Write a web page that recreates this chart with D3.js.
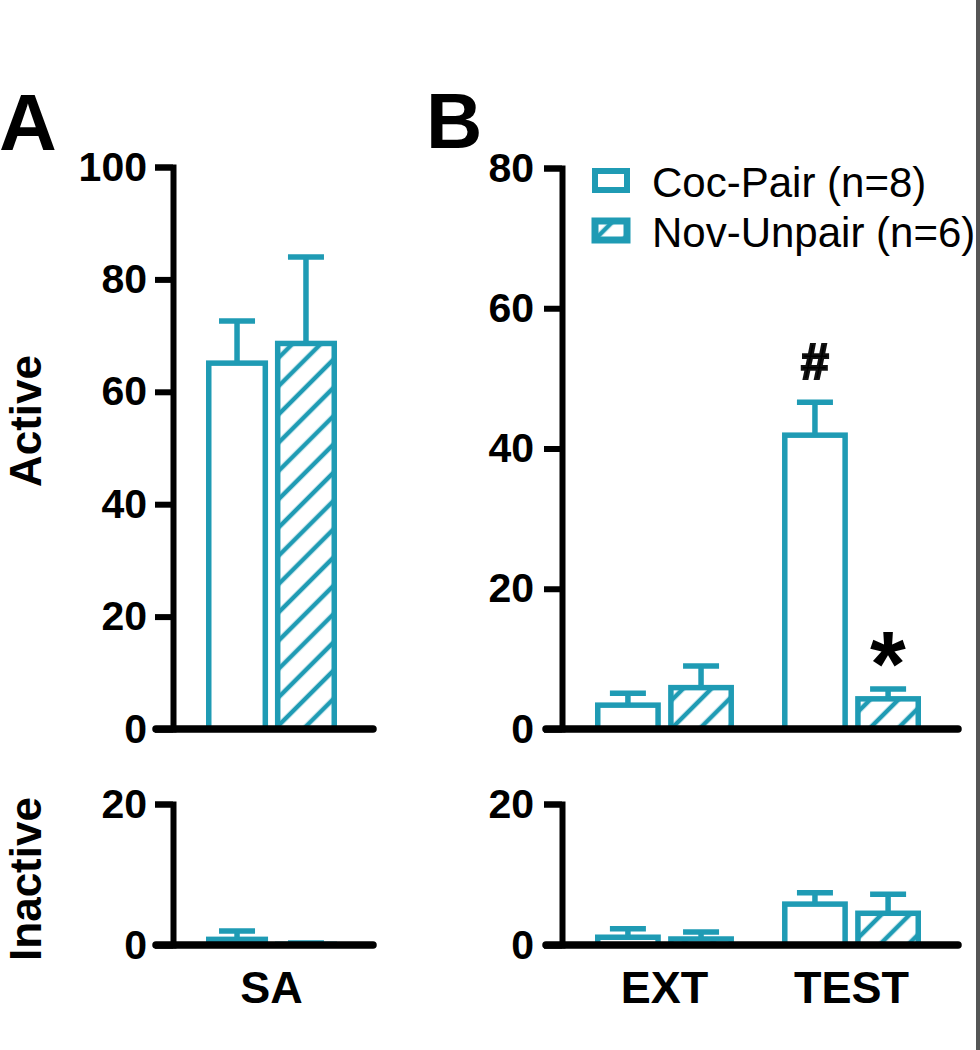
<!DOCTYPE html>
<html>
<head>
<meta charset="utf-8">
<script src="https://cdn.jsdelivr.net/npm/d3@7"></script>
<style>
  html, body { margin: 0; padding: 0; background: #fff; }
  svg { display: block; }
  text { font-family: "Liberation Sans", Arial, sans-serif; fill: #000; }
</style>
</head>
<body>
<svg id="chart" width="980" height="1050"></svg>
<script>
// ---------------- data ----------------
const seriesNames = ["Coc-Pair (n=8)", "Nov-Unpair (n=6)"];
const catsA = ["SA"];
const catsB = ["EXT", "TEST"];

// Panel A (SA)
const activeA_coc = [65.1];
const activeA_coc_sem = [7.5];
const activeA_nov = [68.6];
const activeA_nov_sem = [15.4];
const inactiveA_coc = [0.8];
const inactiveA_coc_sem = [1.2];
const inactiveA_nov = [0.1];
const inactiveA_nov_sem = [0.2];

// Panel B (EXT, TEST)
const activeB_coc = [3.4, 41.9];
const activeB_coc_sem = [1.7, 4.7];
const activeB_nov = [5.9, 4.3];
const activeB_nov_sem = [3.1, 1.4];
const inactiveB_coc = [1.1, 5.8];
const inactiveB_coc_sem = [1.2, 1.6];
const inactiveB_nov = [0.85, 4.5];
const inactiveB_nov_sem = [1.0, 2.7];

// significance marks above bars (B active)
const marksB_coc = ["", "#"];
const marksB_nov = ["", "*"];

const ticksActiveA = [0, 20, 40, 60, 80, 100];
const ticksActiveB = [0, 20, 40, 60, 80];
const ticksInactive = [0, 20];

// ---------------- drawing ----------------
const TEAL = "#1f9bb4";
const svg = d3.select("#chart");

const defs = svg.append("defs");
const pat = defs.append("pattern")
  .attr("id", "hatch")
  .attr("patternUnits", "userSpaceOnUse")
  .attr("width", 20).attr("height", 20)
  .attr("patternTransform", "rotate(45)");
pat.append("rect").attr("width", 20).attr("height", 20).attr("fill", "#fff");
pat.append("line").attr("x1", 10).attr("y1", -2).attr("x2", 10).attr("y2", 22)
  .attr("stroke", TEAL).attr("stroke-width", 4.5);

function rows(cats, coc, cocSem, nov, novSem, marksC, marksN) {
  const out = [];
  cats.forEach((c, i) => {
    out.push({cat: c, s: seriesNames[0], v: coc[i], e: cocSem[i], mark: marksC ? marksC[i] : ""});
    out.push({cat: c, s: seriesNames[1], v: nov[i], e: novSem[i], mark: marksN ? marksN[i] : ""});
  });
  return out;
}

function panel(opts) {
  const g = svg.append("g");
  const {x0, y, data, axisX, xLeft, xRight, ticks, labelPad} = opts;
  const x1 = d3.scaleBand().domain(seriesNames).range([0, x0.bandwidth()]).paddingInner(0.1);
  const sw = 5.5;

  // bars
  g.selectAll("rect.bar").data(data).join("rect")
    .attr("class", "bar")
    .attr("x", d => x0(d.cat) + x1(d.s) + sw / 2)
    .attr("width", x1.bandwidth() - sw)
    .attr("y", d => y(d.v))
    .attr("height", d => Math.max(0, y(0) - y(d.v)))
    .attr("fill", d => d.s === seriesNames[0] ? "#fff" : "url(#hatch)")
    .attr("stroke", TEAL)
    .attr("stroke-width", sw);

  // error bars (upper only)
  const capW = 36;
  g.selectAll("line.stem").data(data).join("line")
    .attr("class", "stem")
    .attr("x1", d => x0(d.cat) + x1(d.s) + x1.bandwidth() / 2)
    .attr("x2", d => x0(d.cat) + x1(d.s) + x1.bandwidth() / 2)
    .attr("y1", d => y(d.v))
    .attr("y2", d => y(d.v + d.e))
    .attr("stroke", TEAL).attr("stroke-width", 5.5);
  g.selectAll("line.cap").data(data).join("line")
    .attr("class", "cap")
    .attr("x1", d => x0(d.cat) + x1(d.s) + x1.bandwidth() / 2 - capW / 2)
    .attr("x2", d => x0(d.cat) + x1(d.s) + x1.bandwidth() / 2 + capW / 2)
    .attr("y1", d => y(d.v + d.e))
    .attr("y2", d => y(d.v + d.e))
    .attr("stroke", TEAL).attr("stroke-width", 5.5);

  // significance marks
  const marks = data.filter(d => d.mark);
  marks.forEach(d => {
    const cx = x0(d.cat) + x1(d.s) + x1.bandwidth() / 2;
    const cy = y(d.v + d.e) - 45;
    const isStar = d.mark === "*";
    const t = g.append("text")
      .attr("x", 0).attr("y", 0)
      .attr("font-size", isStar ? 92 : 50)
      .attr("font-weight", "bold")
      .attr("font-family", "'DejaVu Sans', sans-serif")
      .attr("fill", "#111")
      .attr("stroke", isStar ? "none" : "#111")
      .attr("stroke-width", isStar ? 0 : 2.2)
      .text(d.mark);
    const bb = t.node().getBBox();
    let dx = cx - (bb.x + bb.width / 2);
    let dy;
    if (isStar) {
      dy = cy - (bb.y + bb.height * 0.30);
    } else {
      dy = cy - (bb.y + bb.height * 0.42);
    }
    t.attr("transform", `translate(${dx},${dy})`);
  });

  // y axis
  const ax = g.append("g")
    .attr("transform", `translate(${axisX},0)`)
    .call(d3.axisLeft(y).tickValues(ticks).tickSize(18).tickSizeOuter(18).tickPadding(labelPad));
  ax.select(".domain").attr("stroke", "#000").attr("stroke-width", 6).attr("stroke-linejoin", "miter");
  ax.selectAll(".tick line").attr("stroke", "#000").attr("stroke-width", 6);
  ax.selectAll(".tick text").attr("font-size", 41).attr("font-weight", "bold")
    .attr("font-family", "'Liberation Sans', Arial, sans-serif").attr("fill", "#000");

  // x baseline
  g.append("line")
    .attr("x1", xLeft).attr("x2", xRight)
    .attr("y1", y(0)).attr("y2", y(0))
    .attr("stroke", "#000").attr("stroke-width", 7.5).attr("stroke-linecap", "round");

  if (opts.catLabels) {
    const bx = g.append("g")
      .attr("transform", `translate(0,${y(0)})`)
      .call(d3.axisBottom(x0).tickSize(0).tickPadding(26));
    bx.select(".domain").remove();
    bx.selectAll(".tick text").attr("font-size", 45).attr("font-weight", "bold")
      .attr("font-family", "'Liberation Sans', Arial, sans-serif").attr("fill", "#000");
  }
  return g;
}

// Scales
const x0A = d3.scaleBand().domain(catsA).range([206, 337]);
const x0B = d3.scaleBand().domain(catsB).range([595, 921]).paddingInner(0.257);

const yActA = d3.scaleLinear().domain([0, 100]).range([729, 167]);
const yActB = d3.scaleLinear().domain([0, 80]).range([729, 168]);
const yInA = d3.scaleLinear().domain([0, 20]).range([945, 804]);
const yInB = d3.scaleLinear().domain([0, 20]).range([945, 804]);

panel({x0: x0A, y: yActA, data: rows(catsA, activeA_coc, activeA_coc_sem, activeA_nov, activeA_nov_sem),
  axisX: 173, xLeft: 156, xRight: 373, ticks: ticksActiveA, labelPad: 8});
panel({x0: x0A, y: yInA, data: rows(catsA, inactiveA_coc, inactiveA_coc_sem, inactiveA_nov, inactiveA_nov_sem),
  axisX: 173, xLeft: 156, xRight: 373, ticks: ticksInactive, labelPad: 8, catLabels: true});
panel({x0: x0B, y: yActB, data: rows(catsB, activeB_coc, activeB_coc_sem, activeB_nov, activeB_nov_sem, marksB_coc, marksB_nov),
  axisX: 562, xLeft: 546, xRight: 958, ticks: ticksActiveB, labelPad: 10});
panel({x0: x0B, y: yInB, data: rows(catsB, inactiveB_coc, inactiveB_coc_sem, inactiveB_nov, inactiveB_nov_sem),
  axisX: 562, xLeft: 546, xRight: 958, ticks: ticksInactive, labelPad: 10, catLabels: true});

// Y titles
svg.append("text").attr("transform", "translate(41,421) rotate(-90)")
  .attr("text-anchor", "middle").attr("font-size", 44).attr("font-weight", "bold").text("Active");
svg.append("text").attr("transform", "translate(41,879) rotate(-90)")
  .attr("text-anchor", "middle").attr("font-size", 44).attr("font-weight", "bold").text("Inactive");

// Panel letters
svg.append("text").attr("x", -1).attr("y", 150).attr("font-size", 80).attr("font-weight", "bold").text("A");
svg.append("text").attr("x", 426).attr("y", 148).attr("font-size", 78).attr("font-weight", "bold").text("B");

// Legend
const legend = svg.append("g");
const legY = [168, 218];
seriesNames.forEach((name, i) => {
  legend.append("rect")
    .attr("x", 595).attr("y", legY[i] + 3)
    .attr("width", 32).attr("height", 19)
    .attr("fill", i === 0 ? "#fff" : "url(#hatch)")
    .attr("stroke", TEAL).attr("stroke-width", i === 0 ? 6 : 7);
  legend.append("text")
    .attr("x", 652).attr("y", legY[i] + 29)
    .attr("font-size", 42).text(name);
});

// right border line
svg.append("line").attr("x1", 978).attr("x2", 978).attr("y1", 0).attr("y2", 1050)
  .attr("stroke", "#555").attr("stroke-width", 4);
</script>
</body>
</html>
